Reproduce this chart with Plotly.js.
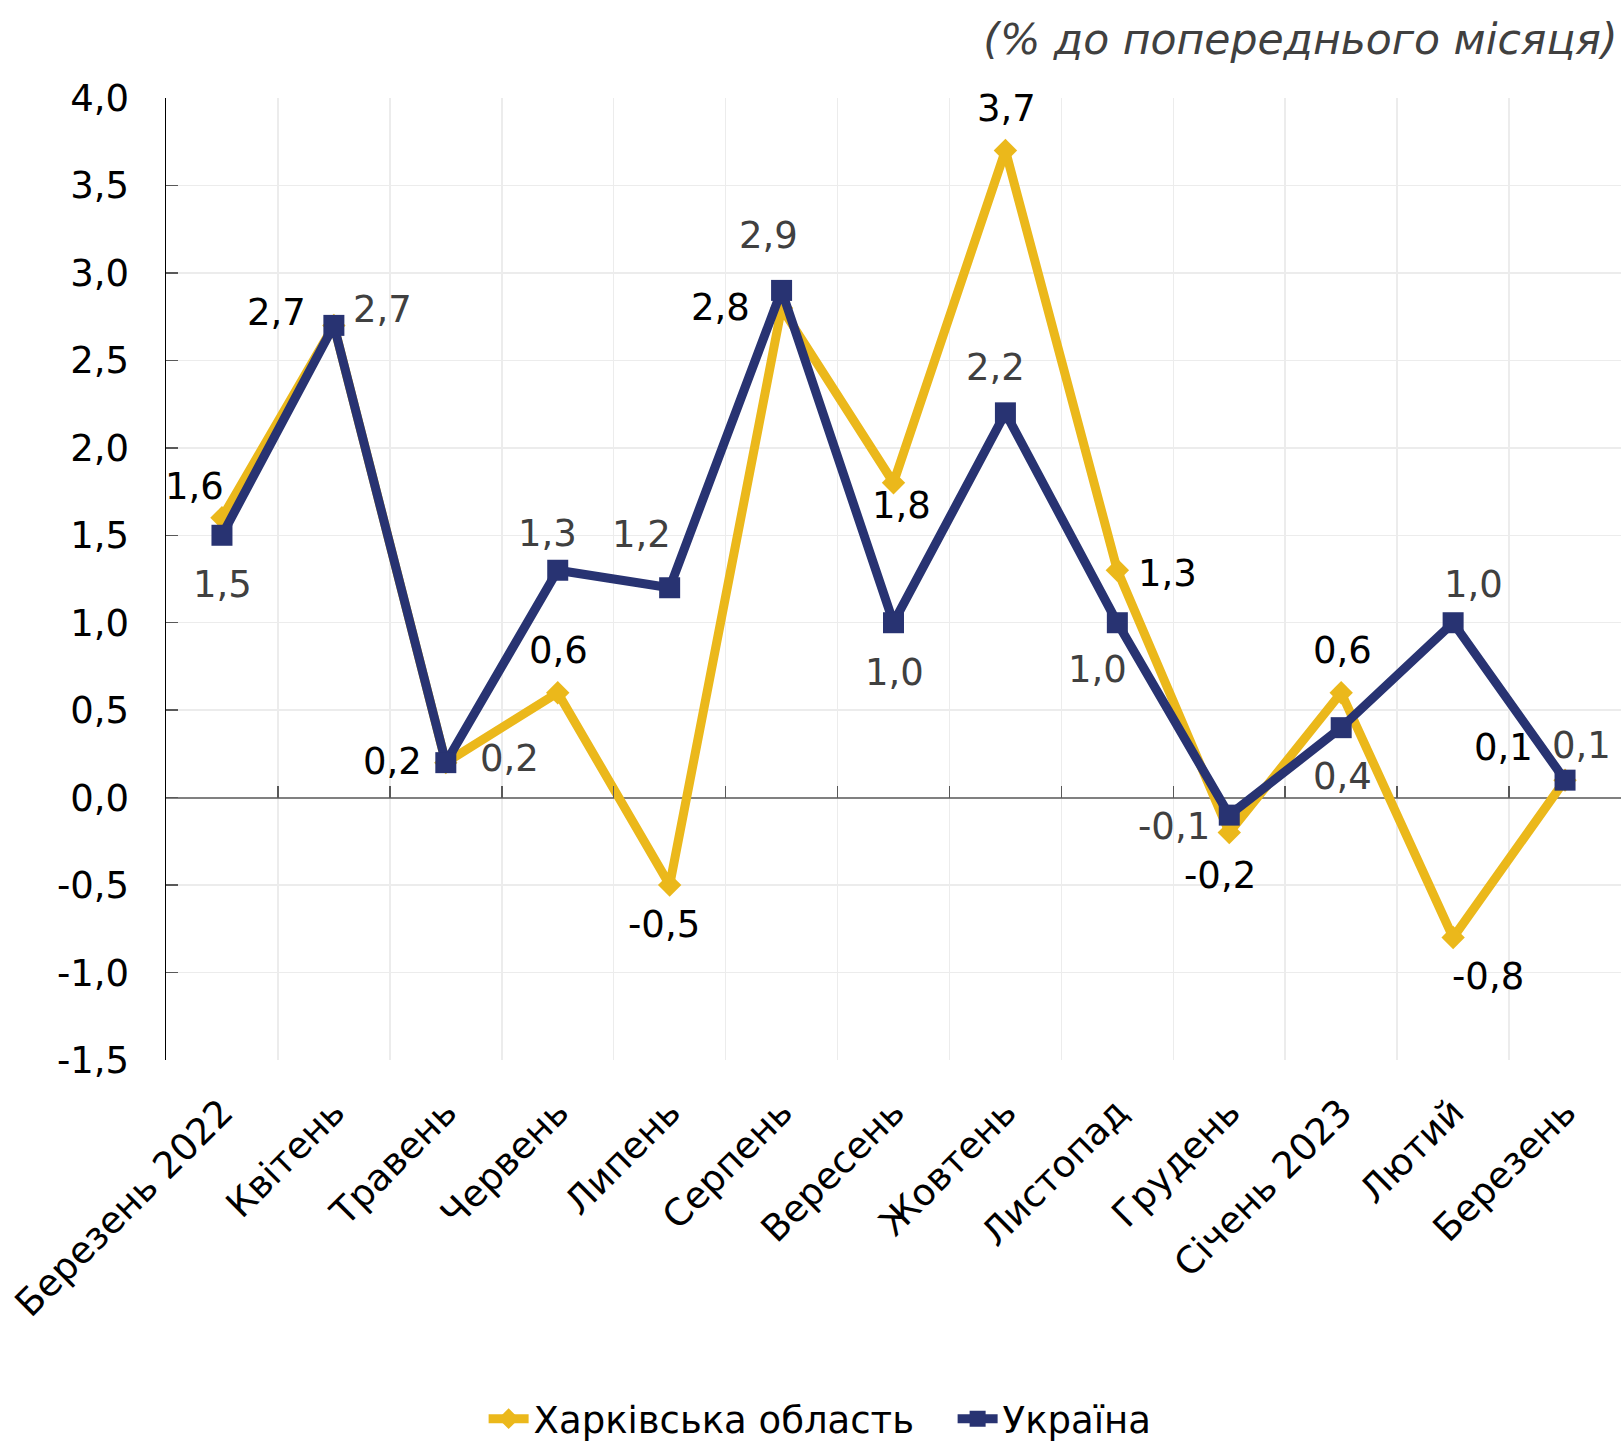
<!DOCTYPE html>
<html>
<head>
<meta charset="utf-8">
<script src="https://cdn.plot.ly/plotly-3.0.1.min.js"></script>
<style>html,body{margin:0;padding:0;background:#fff;}#chart{width:1624px;height:1453px;}</style>
</head>
<body>
<div id="chart"></div>
<script>
const months = ['Березень 2022','Квітень','Травень','Червень','Липень','Серпень','Вересень','Жовтень','Листопад','Грудень','Січень 2023','Лютий','Березень'];
const kharkiv = [1.6, 2.7, 0.2, 0.6, -0.5, 2.8, 1.8, 3.7, 1.3, -0.2, 0.6, -0.8, 0.1];
const ukraine = [1.5, 2.7, 0.2, 1.3, 1.2, 2.9, 1.0, 2.2, 1.0, -0.1, 0.4, 1.0, 0.1];
const seriesNames = ['Харківська область', 'Україна'];
const unitNote = '(% до попереднього місяця)';
const yTickVals = [-1.5, -1.0, -0.5, 0.0, 0.5, 1.0, 1.5, 2.0, 2.5, 3.0, 3.5, 4.0];
const yTickLabels = ['-1,5', '-1,0', '-0,5', '0,0', '0,5', '1,0', '1,5', '2,0', '2,5', '3,0', '3,5', '4,0'];

// label pixel offsets from their points (style only)
const kharkivDx = [-27, -57, -53, 1, -6, -61, 8, 1, 50, -9, 1, 35, -62];
const kharkivDy = [-31, -13, -1, -42, 39, 0, 23, -42, 3, 43, -42, 39, -33];
const ukraineDx = [1, 49, 64, -10, -28, -13, 1, -10, -20, -55, 1, 20, 16];
const ukraineDy = [49, -16, -4, -37, -53, -55, 50, -45, 47, 11, 49, -38, -35];

const fmt = v => v.toFixed(1).replace('.', ',');
const FONT = 'DejaVu Sans, Verdana, sans-serif';
const FS = 37;
const GOLD = '#EBB81B';
const NAVY = '#283372';

const traces = [
  {
    x: months, y: kharkiv, name: seriesNames[0], type: 'scatter', mode: 'lines+markers',
    line: {color: GOLD, width: 9},
    marker: {symbol: 'diamond', size: 18, color: GOLD},
    legendwidth: 414,
    hoverinfo: 'x+y'
  },
  {
    x: months, y: ukraine, name: seriesNames[1], type: 'scatter', mode: 'lines+markers',
    line: {color: NAVY, width: 9},
    marker: {symbol: 'square', size: 21, color: NAVY},
    hoverinfo: 'x+y'
  },
  {
    x: [], y: [], xaxis: 'x2', yaxis: 'y', type: 'scatter', mode: 'lines',
    showlegend: false, hoverinfo: 'skip'
  }
];

const annotations = [];
months.forEach((m, i) => {
  annotations.push({
    x: m, y: kharkiv[i], xref: 'x', yref: 'y', text: fmt(kharkiv[i]), showarrow: false,
    xanchor: 'center', yanchor: 'middle', xshift: kharkivDx[i], yshift: -kharkivDy[i],
    font: {family: FONT, size: FS, color: '#000000'}
  });
  annotations.push({
    x: m, y: ukraine[i], xref: 'x', yref: 'y', text: fmt(ukraine[i]), showarrow: false,
    xanchor: 'center', yanchor: 'middle', xshift: ukraineDx[i], yshift: -ukraineDy[i],
    font: {family: FONT, size: FS, color: '#404040'}
  });
});

const layout = {
  width: 1624, height: 1453,
  paper_bgcolor: '#ffffff', plot_bgcolor: '#ffffff',
  margin: {l: 166, r: 3, t: 98, b: 393},
  font: {family: FONT, size: FS, color: '#000000'},
  title: {
    text: '<i>' + unitNote + '</i>',
    xref: 'container', x: 0.996, xanchor: 'right',
    yref: 'container', y: 1 - 39/1453, yanchor: 'middle',
    font: {family: FONT, size: 42.5, color: '#404040'}
  },
  annotations: annotations,
  xaxis: {
    type: 'category', categoryorder: 'array', categoryarray: months,
    range: [-0.5, 12.5],
    tickson: 'boundaries', showgrid: true, gridcolor: '#ececec', gridwidth: 1.5,
    ticks: '', showline: false, zeroline: false,
    tickangle: -45, tickfont: {family: FONT, size: FS, color: '#000000'},
    ticklabelstandoff: 22
  },
  xaxis2: {
    overlaying: 'x', anchor: 'free', position: 1.5/5.5, side: 'bottom',
    type: 'linear', range: [-0.5, 12.5], tick0: 0.5, dtick: 1,
    ticks: 'inside', ticklen: 12, tickwidth: 1.5, tickcolor: '#595959',
    showticklabels: false, showgrid: false, zeroline: false, showline: false
  },
  yaxis: {
    range: [-1.5, 4.0], tickmode: 'array', tickvals: yTickVals, ticktext: yTickLabels,
    showgrid: true, gridcolor: '#ececec', gridwidth: 1.5,
    zeroline: true, zerolinecolor: '#808080', zerolinewidth: 2,
    showline: true, linecolor: '#000000', linewidth: 1.5,
    ticks: 'inside', ticklen: 12, tickwidth: 1.5, tickcolor: '#595959',
    tickfont: {family: FONT, size: FS, color: '#000000'},
    ticklabelstandoff: 28
  },
  legend: {
    orientation: 'h', xref: 'container', yref: 'container',
    x: 0.505, xanchor: 'center', y: 0.002, yanchor: 'bottom',
    font: {family: FONT, size: FS, color: '#000000'},
    itemwidth: 40, tracegroupgap: 0
  },
  showlegend: true
};

Plotly.newPlot('chart', traces, layout, {displayModeBar: false, staticPlot: true});
</script>
</body>
</html>
